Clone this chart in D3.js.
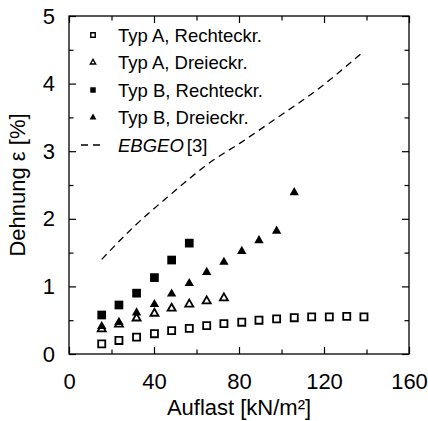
<!DOCTYPE html>
<html>
<head>
<meta charset="utf-8">
<script src="https://cdn.jsdelivr.net/npm/d3@7"></script>
<style>
  body { margin: 0; background: #fff; }
  text { font-family: "Liberation Sans", Arial, sans-serif; fill: #000; }
</style>
</head>
<body>
<div id="chart"></div>
<script>
// data
const loadA = [15.4, 23.5, 31.8, 40.2, 48.3, 56.6, 64.8, 72.9, 81.3, 89.4, 97.7, 106, 114.2, 122.5, 130.7, 138.8];
const typARechteck = [0.15, 0.20, 0.25, 0.30, 0.345, 0.38, 0.42, 0.45, 0.47, 0.50, 0.52, 0.537, 0.55, 0.55, 0.557, 0.55];
const loadADrei = [15.4, 23.5, 31.8, 40.2, 48.3, 56.6, 64.8, 72.9];
const typADreieck = [0.37, 0.44, 0.53, 0.60, 0.675, 0.735, 0.784, 0.828];
const loadBRechteck = [15.4, 23.5, 31.8, 40.2, 48.3, 56.6];
const typBRechteck = [0.577, 0.725, 0.90, 1.13, 1.39, 1.64];
const loadBDrei = [15.4, 23.5, 31.8, 40.2, 48.3, 56.6, 64.8, 72.9, 81.3, 89.4, 97.7, 106];
const typBDreieck = [0.41, 0.47, 0.61, 0.735, 0.89, 1.045, 1.21, 1.36, 1.52, 1.68, 1.82, 2.39];
const ebgeoLoad = [15.4, 31.1, 46.7, 67.1, 80.5, 97.7, 116.6, 138.8];
const ebgeo = [1.40, 1.90, 2.33, 2.85, 3.12, 3.49, 3.905, 4.48];

const xTicks = [0, 40, 80, 120, 160];
const xMinor = [20, 60, 100, 140];
const yTicks = [0, 1, 2, 3, 4, 5];
const yMinor = [0.5, 1.5, 2.5, 3.5, 4.5];

const legendLabels = ["Typ A, Rechteckr.", "Typ A, Dreieckr.", "Typ B, Rechteckr.", "Typ B, Dreieckr."];

const margin = {top: 16, right: 19, bottom: 67, left: 69};
const width = 428 - margin.left - margin.right;
const height = 421 - margin.top - margin.bottom;

const svg = d3.select("#chart")
  .append("svg")
  .attr("width", 428)
  .attr("height", 421)
  .append("g")
  .attr("transform", `translate(${margin.left}, ${margin.top})`);

const x = d3.scaleLinear().domain([0, 160]).range([0, width]);
const y = d3.scaleLinear().domain([0, 5]).range([height, 0]);

// ticks (inward on all four sides)
function ticks(axis, values, size, labels, pad) {
  return axis.tickValues(values).tickSize(-size).tickPadding(pad || 0)
    .tickFormat(labels ? d3.format("d") : "");
}
svg.append("g").attr("transform", `translate(0, ${height})`)
  .call(ticks(d3.axisBottom(x), xTicks, 7, true, 19.5));
svg.append("g").attr("transform", `translate(0, ${height})`)
  .call(ticks(d3.axisBottom(x), xMinor, 4.5));
svg.append("g").call(ticks(d3.axisTop(x), xTicks, 7));
svg.append("g").call(ticks(d3.axisTop(x), xMinor, 4.5));
svg.append("g").call(ticks(d3.axisLeft(y), yTicks, 7, true, 14));
svg.append("g").call(ticks(d3.axisLeft(y), yMinor, 4.5));
svg.append("g").attr("transform", `translate(${width}, 0)`).call(ticks(d3.axisRight(y), yTicks, 7));
svg.append("g").attr("transform", `translate(${width}, 0)`).call(ticks(d3.axisRight(y), yMinor, 4.5));

svg.selectAll(".domain").remove();
svg.selectAll(".tick line").attr("stroke", "#000").attr("stroke-width", 1.2);
svg.selectAll(".tick text").style("font-size", "22px").style("font-family", "'Liberation Sans', Arial, sans-serif");

svg.append("rect")
  .attr("width", width)
  .attr("height", height)
  .attr("fill", "none")
  .attr("stroke", "#000")
  .attr("stroke-width", 1.3);

// axis labels
svg.append("text")
  .attr("x", width / 2)
  .attr("y", height + 61)
  .style("text-anchor", "middle")
  .style("font-size", "22px")
  .text("Auflast [kN/m²]");

svg.append("text")
  .attr("transform", "rotate(-90)")
  .attr("x", -height / 2)
  .attr("y", 25 - margin.left)
  .style("text-anchor", "middle")
  .style("font-size", "22px")
  .text("Dehnung ε [%]");

// EBGEO line
const line = d3.line()
  .x(function(d, i) { return x(ebgeoLoad[i]); })
  .y(function(d) { return y(d); })
  .curve(d3.curveMonotoneX);
svg.append("path")
  .datum(ebgeo)
  .attr("d", line)
  .attr("fill", "none")
  .attr("stroke", "#000")
  .attr("stroke-width", 1.3)
  .attr("stroke-dasharray", "7,5");

const sqOpen = d3.symbol().type(d3.symbolSquare).size(50);
const sqFill = d3.symbol().type(d3.symbolSquare).size(76);
const triOpen = d3.symbol().type(d3.symbolTriangle).size(28);
const triFill = d3.symbol().type(d3.symbolTriangle).size(38);

function points(xs, ys, sym, filled) {
  svg.append("g")
    .selectAll("path")
    .data(ys)
    .join("path")
      .attr("transform", function(d, i) { return `translate(${x(xs[i])}, ${y(d)})`; })
      .attr("d", sym)
      .attr("fill", filled ? "#000" : "#fff")
      .attr("stroke", filled ? "none" : "#000")
      .attr("stroke-width", 1.8);
}
points(loadA, typARechteck, sqOpen, false);
points(loadADrei, typADreieck, triOpen, false);
points(loadBDrei, typBDreieck, triFill, true);
points(loadBRechteck, typBRechteck, sqFill, true);

// legend
const legend = svg.append("g").attr("transform", `translate(${93 - margin.left}, ${35 - margin.top})`);
const legSyms = [
  [d3.symbol().type(d3.symbolSquare).size(20), false],
  [d3.symbol().type(d3.symbolTriangle).size(12), false],
  [d3.symbol().type(d3.symbolSquare).size(30), true],
  [d3.symbol().type(d3.symbolTriangle).size(20), true]
];
legendLabels.forEach(function(lab, i) {
  legend.append("path")
    .attr("transform", `translate(0, ${i * 27.5})`)
    .attr("d", legSyms[i][0])
    .attr("fill", legSyms[i][1] ? "#000" : "#fff")
    .attr("stroke", legSyms[i][1] ? "none" : "#000")
    .attr("stroke-width", 1.4);
  legend.append("text")
    .attr("x", 25)
    .attr("y", i * 27.5 + 6.5)
    .style("font-size", "18.5px")
    .text(lab);
});
legend.append("line")
  .attr("x1", -12).attr("x2", 12)
  .attr("y1", 4 * 27.5).attr("y2", 4 * 27.5)
  .attr("stroke", "#000")
  .attr("stroke-width", 1.3)
  .attr("stroke-dasharray", "7,5");
const eb = legend.append("text")
  .attr("x", 25)
  .attr("y", 4 * 27.5 + 6.5)
  .style("font-size", "18.5px");
eb.append("tspan").style("font-style", "italic").text("EBGEO");
eb.append("tspan").attr("dx", 3).text("[3]");
</script>
</body>
</html>
